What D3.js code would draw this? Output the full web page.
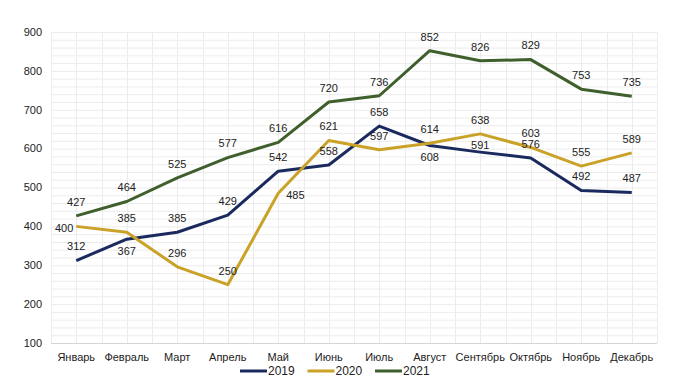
<!DOCTYPE html>
<html>
<head>
<meta charset="utf-8">
<script src="https://cdn.jsdelivr.net/npm/d3@7"></script>
<style>
  body { margin: 0; background: #fff; }
  text { font-family: "Liberation Sans", Arial, sans-serif; font-size: 11px; fill: #222; }
</style>
</head>
<body>
<div id="chart"></div>
<script>
var months = ["Январь", "Февраль", "Март", "Апрель", "Май", "Июнь", "Июль", "Август", "Сентябрь", "Октябрь", "Ноябрь", "Декабрь"];
var years = ["2019", "2020", "2021"];
var v2019 = [312, 367, 385, 429, 542, 558, 658, 608, 591, 576, 492, 487];
var v2020 = [400, 385, 296, 250, 485, 621, 597, 614, 638, 603, 555, 589];
var v2021 = [427, 464, 525, 577, 616, 720, 736, 852, 826, 829, 753, 735];
var yTicks = [100, 200, 300, 400, 500, 600, 700, 800, 900];

// label placement per point: t = above, b = below, l = left, r = right, n = just above
var pos2019 = ["t", "b", "t", "t", "t", "t", "t", "b", "n", "t", "t", "t"];
var pos2020 = ["l", "t", "t", "t", "r", "t", "t", "t", "t", "t", "t", "t"];
var pos2021 = ["t", "t", "t", "t", "t", "t", "t", "t", "t", "t", "t", "t"];

var colors = {"2019": "#1b2a5e", "2020": "#c9a227", "2021": "#3f5f2c"};

var width = 680, height = 386;
var margin = {top: 32, right: 23, bottom: 43, left: 51};

var svg = d3.select("#chart").append("svg")
    .attr("width", width)
    .attr("height", height);

var x = d3.scaleBand()
    .domain(months)
    .range([margin.left, width - margin.right]);

var y = d3.scaleLinear()
    .domain([100, 900])
    .range([height - margin.bottom, margin.top]);

var cx = function(m) { return x(m) + x.bandwidth() / 2; };

// grid
var grid = svg.append("g");
grid.selectAll(".hgrid")
    .data(d3.range(100, 901, 20))
    .enter().append("line")
        .attr("x1", margin.left)
        .attr("x2", width - margin.right)
        .attr("y1", function(d) { return y(d) + 0.5; })
        .attr("y2", function(d) { return y(d) + 0.5; })
        .style("stroke", "#ececec");

var vx = [];
months.forEach(function(m) { vx.push(x(m)); vx.push(cx(m)); });
vx.push(width - margin.right);
grid.selectAll(".vgrid")
    .data(vx)
    .enter().append("line")
        .attr("x1", function(d) { return Math.round(d) + 0.5; })
        .attr("x2", function(d) { return Math.round(d) + 0.5; })
        .attr("y1", margin.top)
        .attr("y2", height - margin.bottom)
        .style("stroke", "#ececec");

grid.append("line")
    .attr("x1", margin.left)
    .attr("x2", width - margin.right)
    .attr("y1", y(100) + 0.5)
    .attr("y2", y(100) + 0.5)
    .style("stroke", "#d4d4d4");

// axes labels
svg.selectAll(".ytick")
    .data(yTicks)
    .enter().append("text")
        .attr("x", 42)
        .attr("y", function(d) { return y(d); })
        .attr("dy", "0.35em")
        .style("text-anchor", "end")
        .text(function(d) { return d; });

svg.selectAll(".xtick")
    .data(months)
    .enter().append("text")
        .attr("x", cx)
        .attr("y", height - margin.bottom + 14)
        .attr("dy", "0.35em")
        .style("text-anchor", "middle")
        .text(function(d) { return d; });

// lines
var series = [
    {year: "2019", values: v2019, pos: pos2019},
    {year: "2020", values: v2020, pos: pos2020},
    {year: "2021", values: v2021, pos: pos2021}
];

var line = d3.line()
    .x(function(d, i) { return cx(months[i]); })
    .y(function(d) { return y(d); });

svg.selectAll(".series")
    .data(series)
    .enter().append("path")
        .attr("d", function(s) { return line(s.values); })
        .style("fill", "none")
        .style("stroke", function(s) { return colors[s.year]; })
        .style("stroke-width", 3)
        .style("stroke-linejoin", "round");

// data labels
series.forEach(function(s) {
    svg.selectAll(".lbl" + s.year)
        .data(s.values)
        .enter().append("text")
            .attr("x", function(d, i) {
                var p = s.pos[i];
                if (p === "l") return cx(months[i]) - 3;
                if (p === "r") return cx(months[i]) + 8;
                return cx(months[i]);
            })
            .attr("y", function(d, i) {
                var p = s.pos[i];
                var dy = p === "b" ? 12 : p === "n" ? -7 : (p === "l" || p === "r") ? 2 : -14;
                return y(d) + dy;
            })
            .attr("dy", "0.35em")
            .style("text-anchor", function(d, i) {
                var p = s.pos[i];
                return p === "l" ? "end" : p === "r" ? "start" : "middle";
            })
            .text(function(d) { return d; });
});

// legend
var legend = svg.append("g")
    .attr("transform", "translate(240," + 371 + ")");

var item = legend.selectAll(".leg")
    .data(years)
    .enter().append("g")
        .attr("transform", function(d, i) { return "translate(" + (i * 67.5) + ",0)"; });

item.append("line")
    .attr("x1", 0)
    .attr("x2", 27)
    .style("stroke", function(d) { return colors[d]; })
    .style("stroke-width", 3);

item.append("text")
    .attr("x", 28)
    .attr("dy", "0.35em")
    .style("font-size", "12px")
    .text(function(d) { return d; });
</script>
</body>
</html>
